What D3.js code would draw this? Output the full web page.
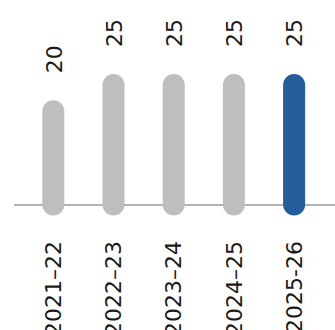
<!DOCTYPE html>
<html>
<head>
<meta charset="utf-8">
<script src="https://cdn.jsdelivr.net/npm/d3@7"></script>
<style>
  html, body { margin: 0; padding: 0; background: #fff; }
  svg { display: block; }
  text { font-family: "DejaVu Sans", sans-serif; font-size: 22px; fill: #1a1a1a; }
</style>
</head>
<body>
<div id="chart"></div>
<script>
const categories = ["2021–22", "2022–23", "2023–24", "2024–25", "2025-26"];
const values = [20, 25, 25, 25, 25];
const highlight = [false, false, false, false, true];

const W = 335, H = 330;
const svg = d3.select("#chart").append("svg").attr("width", W).attr("height", H);

const x = d3.scaleBand().domain(categories).range([23.2, 324.2]).padding(0);
const y = d3.scaleLinear().domain([0, 25]).range([205, 74]);
const barW = 22;

// baseline
svg.append("line")
  .attr("x1", 14).attr("x2", W)
  .attr("y1", y(0)).attr("y2", y(0))
  .attr("stroke", "#9a9a9a").attr("stroke-width", 1.5);

const data = categories.map((c, i) => ({ c, v: values[i], h: highlight[i] }));

svg.selectAll("rect.bar").data(data).join("rect")
  .attr("class", "bar")
  .attr("x", d => x(d.c) + x.bandwidth() / 2 - barW / 2)
  .attr("width", barW)
  .attr("y", d => y(d.v))
  .attr("height", d => y(0) - y(d.v) + 10.5)
  .attr("rx", barW / 2)
  .attr("fill", d => d.h ? "#235d9c" : "#bdbec0");

// value labels
svg.selectAll("text.val").data(data).join("text")
  .attr("class", "val")
  .attr("transform", d => `translate(${x(d.c) + x.bandwidth() / 2},${y(d.v) - 27}) rotate(-90)`)
  .attr("dy", "0.38em")
  .attr("text-anchor", "start")
  .text(d => d.v);

// category labels
svg.selectAll("text.cat").data(data).join("text")
  .attr("class", "cat")
  .attr("transform", d => `translate(${x(d.c) + x.bandwidth() / 2},241) rotate(-90)`)
  .attr("dy", "0.35em")
  .attr("text-anchor", "end")
  .text(d => d.c);
</script>
</body>
</html>
